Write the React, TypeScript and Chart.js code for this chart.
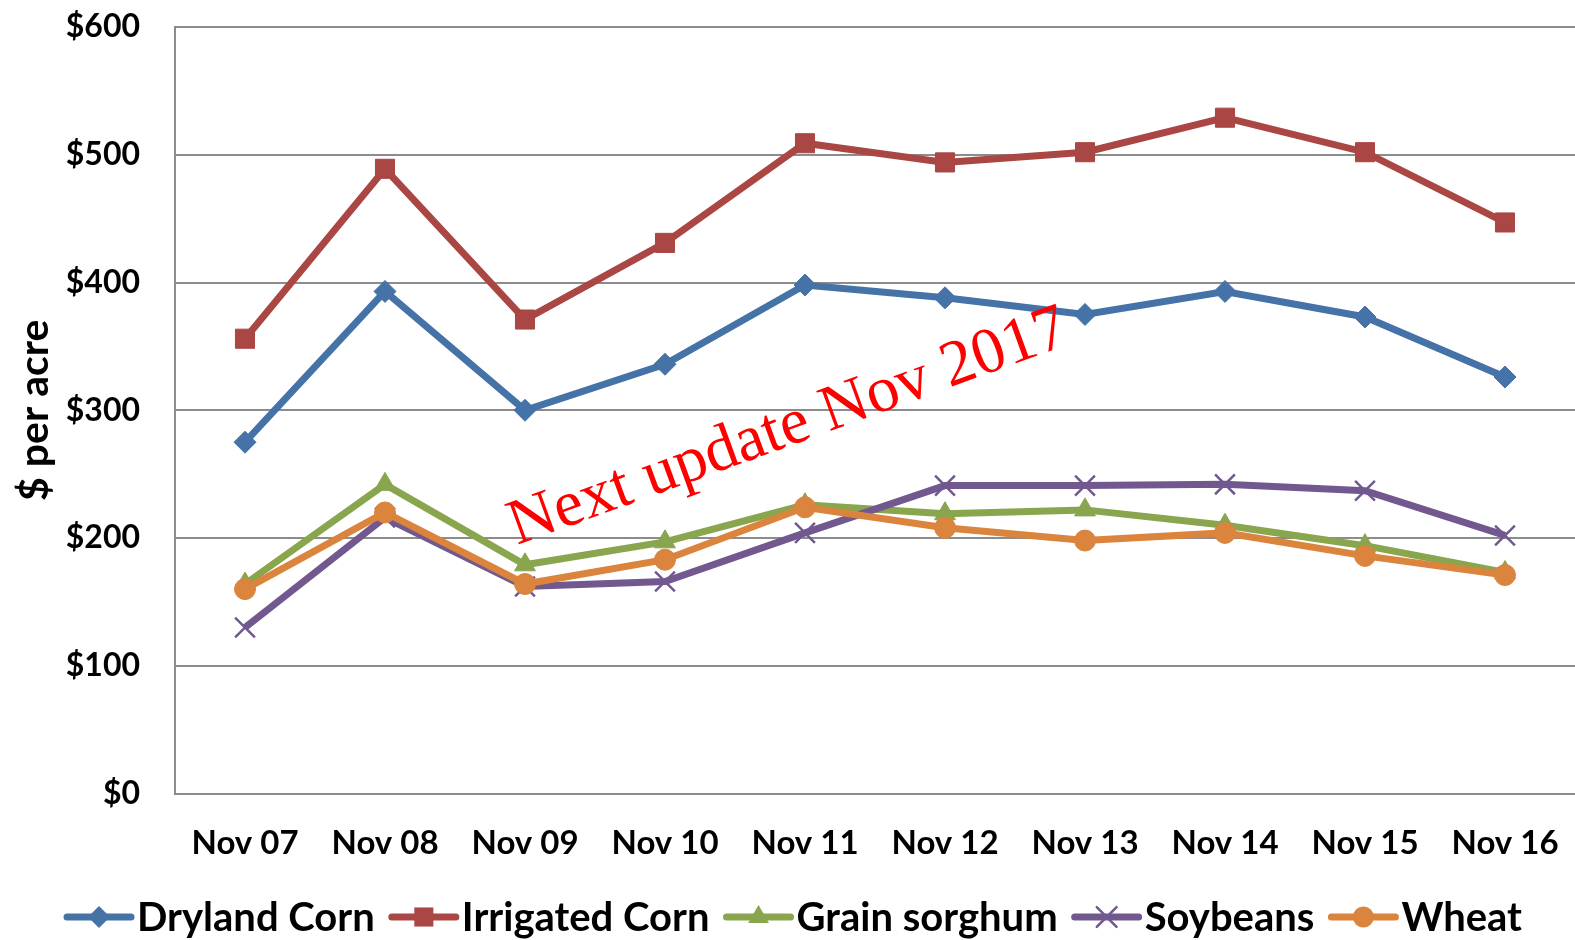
import React, { useEffect, useRef } from "react";
import { Chart, registerables } from "chart.js";

Chart.register(...registerables);

const categories = ["Nov 07", "Nov 08", "Nov 09", "Nov 10", "Nov 11", "Nov 12", "Nov 13", "Nov 14", "Nov 15", "Nov 16"];
const drylandCorn = [275, 393, 300, 336, 398, 388, 375, 393, 373, 326];
const irrigatedCorn = [356, 489, 371, 431, 509, 494, 502, 529, 502, 447];
const grainSorghum = [164, 242, 179, 197, 226, 219, 222, 210, 194, 173];
const soybeans = [130, 216, 162, 166, 204, 241, 241, 242, 237, 202];
const wheat = [160, 220, 164, 183, 224, 208, 198, 204, 186, 171];
const seriesNames = ["Dryland Corn", "Irrigated Corn", "Grain sorghum", "Soybeans", "Wheat"];
const seriesColors = ["#4572A7", "#AA4643", "#89A54E", "#71588F", "#DB843D"];
const pointStyles = ["rectRot", "rect", "triangle", "crossRot", "circle"];
const pointRadii = [11, 13.5, 12, 14, 10.5];
const annotationText = "Next update Nov 2017";

const FONT = "Lato, 'Open Sans', sans-serif";

function drawMarker(ctx: CanvasRenderingContext2D, style: string, x: number, y: number, r: number, color: string) {
  ctx.save();
  ctx.fillStyle = color;
  ctx.strokeStyle = color;
  ctx.beginPath();
  if (style === "rectRot") {
    ctx.moveTo(x, y - r);
    ctx.lineTo(x + r, y);
    ctx.lineTo(x, y + r);
    ctx.lineTo(x - r, y);
    ctx.closePath();
    ctx.fill();
  } else if (style === "rect") {
    const s = r * Math.SQRT1_2;
    ctx.rect(x - s, y - s, 2 * s, 2 * s);
    ctx.fill();
  } else if (style === "triangle") {
    ctx.moveTo(x, y - r);
    ctx.lineTo(x + r * 0.866, y + r * 0.5);
    ctx.lineTo(x - r * 0.866, y + r * 0.5);
    ctx.closePath();
    ctx.fill();
  } else if (style === "crossRot") {
    const s = r * Math.SQRT1_2;
    ctx.lineWidth = 2.5;
    ctx.moveTo(x - s, y - s);
    ctx.lineTo(x + s, y + s);
    ctx.moveTo(x - s, y + s);
    ctx.lineTo(x + s, y - s);
    ctx.stroke();
  } else {
    ctx.arc(x, y, r, 0, Math.PI * 2);
    ctx.fill();
  }
  ctx.restore();
}

const overlayPlugin = {
  id: "overlay",
  afterDatasetsDraw(chart: any) {
    const ctx = chart.ctx as CanvasRenderingContext2D;
    ctx.save();
    ctx.translate(517, 545);
    ctx.rotate((-20 * Math.PI) / 180);
    ctx.font = "65px 'Liberation Serif', 'Times New Roman', serif";
    ctx.fillStyle = "#FF0000";
    ctx.textAlign = "left";
    ctx.textBaseline = "alphabetic";
    ctx.fillText(annotationText, 0, 0);
    ctx.restore();
  },
  afterDraw(chart: any) {
    const ctx = chart.ctx as CanvasRenderingContext2D;
    ctx.save();
    ctx.font = `bold 40px ${FONT}`;
    const lineLen = 64;
    const textGap = 6;
    const itemGap = 17;
    const widths = seriesNames.map((n) => lineLen + textGap + ctx.measureText(n).width);
    const total = widths.reduce((a, b) => a + b, 0) + itemGap * (seriesNames.length - 1);
    let x = (chart.width - total) / 2 + 7;
    const y = 917;
    seriesNames.forEach((name, i) => {
      ctx.strokeStyle = seriesColors[i];
      ctx.lineWidth = 7;
      ctx.lineCap = "round";
      ctx.beginPath();
      ctx.moveTo(x, y);
      ctx.lineTo(x + lineLen, y);
      ctx.stroke();
      drawMarker(ctx, pointStyles[i], x + lineLen / 2, y, pointRadii[i], seriesColors[i]);
      ctx.fillStyle = "#000000";
      ctx.textAlign = "left";
      ctx.textBaseline = "middle";
      ctx.fillText(name, x + lineLen + textGap, y + 1);
      x += widths[i] + itemGap;
    });
    ctx.restore();
  },
};

export default function App() {
  const canvasRef = useRef<HTMLCanvasElement | null>(null);

  useEffect(() => {
    if (!canvasRef.current) return;
    const seriesData = [drylandCorn, irrigatedCorn, grainSorghum, soybeans, wheat];
    const chart = new Chart(canvasRef.current, {
      type: "line",
      data: {
        labels: categories,
        datasets: seriesData.map((d, i) => ({
          label: seriesNames[i],
          data: d,
          borderColor: seriesColors[i],
          backgroundColor: seriesColors[i],
          borderWidth: 7,
          tension: 0,
          fill: false,
          pointStyle: pointStyles[i] as any,
          pointRadius: pointRadii[i],
          pointBorderWidth: i === 3 ? 2.5 : 1,
          pointBorderColor: seriesColors[i],
          pointBackgroundColor: seriesColors[i],
          order: 5 - i,
        })),
      },
      options: {
        responsive: false,
        animation: false,
        devicePixelRatio: 1,
        layout: { autoPadding: false, padding: { left: 0, right: 0, top: 27, bottom: 0 } },
        plugins: {
          legend: { display: false },
          tooltip: { enabled: false },
        },
        scales: {
          x: {
            type: "category",
            offset: true,
            grid: {
              display: true,
              drawOnChartArea: false,
              drawTicks: true,
              tickLength: 30,
              tickColor: "rgba(0,0,0,0)",
              color: "rgba(0,0,0,0)",
            },
            border: { display: true, color: "#8c8c8c", width: 2 },
            ticks: {
              color: "#000000",
              font: { family: FONT, size: 33, weight: "bold" },
              padding: 0,
              maxRotation: 0,
              autoSkip: false,
            },
            afterFit: (scale: any) => {
              scale.height = 146.5;
              scale.paddingLeft = 0;
              scale.paddingRight = 0;
              scale.paddingTop = 0;
              scale.paddingBottom = 0;
            },
          },
          y: {
            min: 0,
            max: 600,
            ticks: {
              stepSize: 100,
              color: "#000000",
              font: { family: FONT, size: 32, weight: "bold" },
              padding: 35,
              callback: (v: any) => "$" + v,
            },
            grid: { color: "#8c8c8c", lineWidth: 2, drawTicks: false },
            border: { display: true, color: "#8c8c8c", width: 2 },
            title: {
              display: true,
              text: "$ per acre",
              color: "#000000",
              font: { family: FONT, size: 41, weight: "bold" },
              padding: { top: 10, bottom: 0 },
            },
            afterFit: (scale: any) => {
              scale.width = 175;
              scale.paddingTop = 0;
              scale.paddingBottom = 0;
              scale.paddingLeft = 0;
              scale.paddingRight = 0;
            },
          },
        },
      },
      plugins: [overlayPlugin],
    });
    return () => chart.destroy();
  }, []);

  return (
    <div style={{ position: "absolute", left: 0, top: 0, width: 1575, height: 940, background: "#ffffff" }}>
      <canvas ref={canvasRef} width={1575} height={940} style={{ display: "block" }} />
    </div>
  );
}
